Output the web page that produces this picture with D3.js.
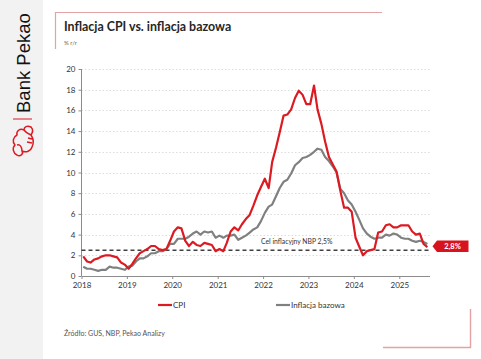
<!DOCTYPE html>
<html><head><meta charset="utf-8">
<script src="https://cdn.jsdelivr.net/npm/d3@7"></script>
<style>
body{margin:0;background:#fff}
svg{display:block}
text{font-family:Lato,"Open Sans",sans-serif}
</style>
</head><body>
<svg id="c" width="481" height="359"></svg>
<script>
// ---- data ----
const startYear = 2018;
const yearTicks = [2018, 2019, 2020, 2021, 2022, 2023, 2024, 2025];
const yTicks = [0, 2, 4, 6, 8, 10, 12, 14, 16, 18, 20];
const cpi = [
  1.9, 1.4, 1.3, 1.6, 1.7, 1.9, 2.0, 2.0, 1.9, 1.8, 1.3, 1.1,
  0.7, 1.2, 1.7, 2.2, 2.4, 2.6, 2.9, 2.9, 2.6, 2.5, 2.6, 3.4,
  4.3, 4.7, 4.6, 3.4, 2.9, 3.3, 3.0, 2.9, 3.2, 3.1, 3.0, 2.4,
  2.6, 2.4, 3.2, 4.3, 4.7, 4.4, 5.0, 5.5, 5.9, 6.8, 7.8, 8.6,
  9.4, 8.5, 11.0, 12.4, 13.9, 15.5, 15.6, 16.1, 17.2, 17.9, 17.5, 16.6,
  16.6, 18.4, 16.1, 14.7, 13.0, 11.5, 10.8, 10.1, 8.2, 6.6, 6.6, 6.2,
  3.7, 2.8, 2.0, 2.4, 2.5, 2.6, 4.2, 4.3, 4.9, 5.0, 4.7, 4.7,
  4.9, 4.9, 4.9, 4.3, 4.0, 4.1, 3.1, 2.8
];
const core = [
  0.9, 0.7, 0.7, 0.6, 0.5, 0.6, 0.6, 0.9, 0.8, 0.8, 0.7, 0.6,
  0.9, 1.0, 1.4, 1.7, 1.7, 1.9, 2.2, 2.2, 2.4, 2.4, 2.6, 3.1,
  3.1, 3.6, 3.6, 3.6, 3.8, 4.1, 4.3, 4.0, 4.3, 4.2, 4.3, 3.7,
  3.9, 3.7, 3.9, 3.9, 4.0, 3.5, 3.7, 3.9, 4.2, 4.5, 4.7, 5.3,
  6.1, 6.7, 6.9, 7.7, 8.5, 9.1, 9.3, 9.9, 10.7, 11.0, 11.4, 11.5,
  11.7, 12.0, 12.3, 12.2, 11.5, 11.1, 10.6, 10.0, 8.4, 8.0, 7.3, 6.9,
  6.2, 5.4, 4.6, 4.1, 3.8, 3.6, 3.7, 3.7, 4.0, 3.9, 4.1, 4.0,
  3.7, 3.6, 3.6, 3.4, 3.3, 3.4, 3.3, 3.1
];
const target = 2.5;
const targetLabel = "Cel inflacyjny NBP 2,5%";
const lastLabel = "2,8%";
const seriesNames = ["CPI", "Inflacja bazowa"];
const colors = ["#dc1a22", "#808080"];

// ---- chart ----
const svg = d3.select("#c");
const red = colors[0];

// left brand strip
svg.append("rect").attr("x",0).attr("y",0).attr("width",43).attr("height",359).attr("fill","#f2f2f2");
svg.append("text").attr("transform","translate(30,113) rotate(-90)")
  .attr("font-size",18.5).attr("fill","#111")
  .style("font-family","'Liberation Sans', Arial, sans-serif")
  .text("Bank Pekao");
svg.append("line").attr("x1",13).attr("x2",32).attr("y1",119).attr("y2",119).attr("stroke",red).attr("stroke-width",1);
// stylised bison logo
svg.append("path")
  .attr("d","M31,127 C27,125 24,127 24,130 C20,128 16,131 17,135 C13,137 12,142 15,145 C12,148 13,153 17,155 C20,157 24,154 22,151 C26,153 31,151 32,147 C34,143 33,138 31,135 C33,132 33,129 31,127 Z M24,130 C26,133 29,134 31,135 M17,145 C20,144 22,147 22,151 M28,138 L32,139 M27,142 L32,143")
  .attr("fill","none").attr("stroke",red).attr("stroke-width",1.5).attr("stroke-linejoin","round");

// decorative frame lines
const frameCol = "#e3a2a4";
svg.append("line").attr("x1",55).attr("x2",382).attr("y1",12.5).attr("y2",12.5).attr("stroke",frameCol).attr("stroke-width",1.2);
svg.append("line").attr("x1",55.5).attr("x2",55.5).attr("y1",12).attr("y2",49).attr("stroke",frameCol).attr("stroke-width",1.2);
svg.append("line").attr("x1",383).attr("x2",471).attr("y1",347.5).attr("y2",347.5).attr("stroke",frameCol).attr("stroke-width",1.4);
svg.append("line").attr("x1",470.5).attr("x2",470.5).attr("y1",309).attr("y2",348).attr("stroke",frameCol).attr("stroke-width",1.4);

// title
svg.append("text").attr("x",64).attr("y",31).attr("font-size",12.4).attr("font-weight","bold").attr("fill","#262626")
  .text("Inflacja CPI vs. inflacja bazowa");
svg.append("text").attr("x",64).attr("y",45).attr("font-size",6).attr("fill","#666").text("% r/r");

// scales
const x = d3.scaleTime().domain([new Date(startYear,0,1), new Date(2025,8,1)]).range([81.5, 429.5]);
const y = d3.scaleLinear().domain([0,20]).range([276,69]);
const dateOf = i => new Date(startYear, i, 15);

// grid
svg.append("g").selectAll("line").data(yTicks.filter(d=>d>0)).join("line")
  .attr("x1",x.range()[0]).attr("x2",x.range()[1])
  .attr("y1",d=>Math.round(y(d))+0.5).attr("y2",d=>Math.round(y(d))+0.5)
  .attr("stroke","#d4d4d4").attr("stroke-width",0.8).attr("stroke-dasharray","1.5,2");

// axes
const gy = svg.append("g").attr("transform","translate(81.5,0)")
  .call(d3.axisLeft(y).tickValues(yTicks).tickSize(3).tickPadding(3));
const gx = svg.append("g").attr("transform","translate(0,276)")
  .call(d3.axisBottom(x).tickValues(yearTicks.map(yr=>new Date(yr,0,1))).tickFormat(d3.timeFormat("%Y")).tickSize(3).tickPadding(3).tickSizeOuter(0));
[gx,gy].forEach(g=>{
  g.select(".domain").attr("stroke","#8c8c8c");
  g.selectAll(".tick line").attr("stroke","#8c8c8c");
  g.selectAll("text").attr("font-size",8).attr("fill","#333").style("font-family","Lato, sans-serif");
});
gy.select(".domain").attr("d","M0,276V69");

// target line
svg.append("line").attr("x1",x.range()[0]).attr("x2",x.range()[1]).attr("y1",y(target)).attr("y2",y(target))
  .attr("stroke","#404040").attr("stroke-width",1.5).attr("stroke-dasharray","4,3");
svg.append("text").attr("x",261).attr("y",y(target)-6).attr("font-size",6.8).attr("fill","#333").text(targetLabel);

// lines
const line = d3.line().x((d,i)=>x(dateOf(i))).y(d=>y(d)).curve(d3.curveLinear);
svg.append("path").datum(core).attr("d",line).attr("fill","none").attr("stroke",colors[1]).attr("stroke-width",2.2).attr("stroke-linejoin","round");
svg.append("path").datum(cpi).attr("d",line).attr("fill","none").attr("stroke",colors[0]).attr("stroke-width",2.2).attr("stroke-linejoin","round");

// last value label
const bx = 432.5, by = 246.3;
svg.append("path").attr("d",`M${bx},${by} L${bx+4.5},${by-5.8} L468.5,${by-5.8} L468.5,${by+5.8} L${bx+4.5},${by+5.8} Z`).attr("fill","#d7141d");
svg.append("text").attr("x",452.5).attr("y",by).attr("dy","0.35em").attr("text-anchor","middle")
  .attr("font-size",7.5).attr("font-weight","bold").attr("fill","#fff").text(lastLabel);

// legend
const legX = [158, 276];
seriesNames.forEach((n,i)=>{
  svg.append("line").attr("x1",legX[i]).attr("x2",legX[i]+14).attr("y1",305).attr("y2",305).attr("stroke",colors[i]).attr("stroke-width",2.2);
  svg.append("text").attr("x",legX[i]+15).attr("y",305).attr("dy","0.35em").attr("font-size",8).attr("fill","#333").text(n);
});

// source
svg.append("text").attr("x",64).attr("y",336).attr("font-size",7).attr("fill","#555").text("Źródło: GUS, NBP, Pekao Analizy");
</script>
</body></html>
